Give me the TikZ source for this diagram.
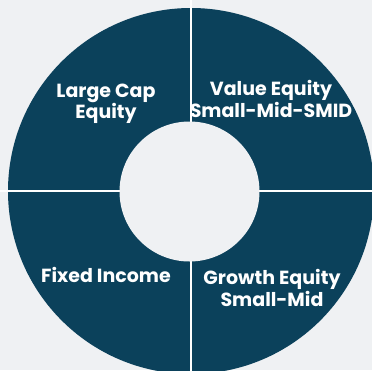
\documentclass[tikz,border=0pt]{standalone}
\usepackage{fontspec}
\setmainfont{Poppins}
\definecolor{bg}{HTML}{EFF1F3}
\definecolor{navy}{HTML}{0B415B}
\begin{document}
\begin{tikzpicture}[x=1pt,y=-1pt,
  lbl/.style={text=white,font=\bfseries\fontsize{19}{20}\selectfont,align=center,inner sep=0pt},
  divider/.style={draw=white,line width=2pt}]
\fill[bg] (0,0) rectangle (372,370);
\useasboundingbox (0,0) rectangle (372,370);
\begin{scope}
\clip (0,0) rectangle (372,370);
\coordinate (c) at (191,191);
\fill[navy] (c) circle[radius=183];
\coordinate (top) at (191,0);
\coordinate (bot) at (191,374);
\coordinate (lft) at (0,191);
\coordinate (rgt) at (374,191);
\draw[divider] (top) -- (bot);
\draw[divider] (lft) -- (rgt);
\fill[bg] (189.5,191.5) circle[radius=70];
\end{scope}
\node[lbl] (lc) at (106,104) {Large Cap\\Equity};
\node[lbl] (ve) at (271,99) {Value Equity\\Small-Mid-SMID};
\node[lbl] (fi) at (106,275) {Fixed Income};
\node[lbl] (ge) at (272,288) {Growth Equity\\Small-Mid};
\end{tikzpicture}
\end{document}
